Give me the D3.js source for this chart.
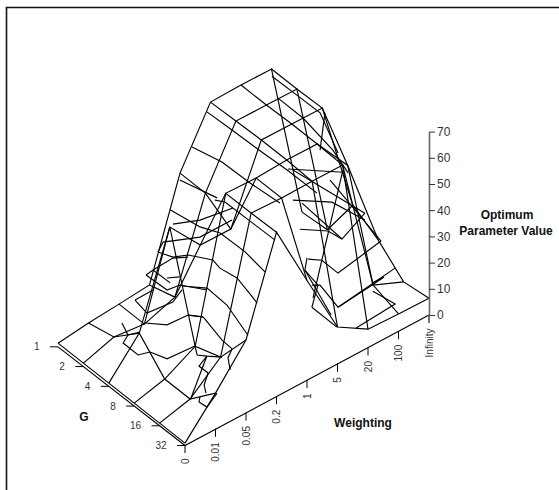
<!DOCTYPE html>
<html><head><meta charset="utf-8">
<script src="https://cdn.jsdelivr.net/npm/d3@7"></script>
<style>html,body{margin:0;padding:0;background:#fff}svg{display:block}text{font-family:"Liberation Sans",Arial,sans-serif}</style>
</head><body><svg id="c" width="559" height="490"></svg>
<script>
const gLabels=["1","2","4","8","16","32"];
const wLabels=["0","0.01","0.05","0.2","1","5","20","100","Infinity"];
const zTicks=[0,10,20,30,40,50,60,70];
// surface heights: one row per G, one value per weighting
const rowG1 =[.7,2.2,3.2,4.3,40.8,61.7,62,61.9,1.1];
const rowG2 =[.7,4.5,3.2,7.3,40.8,62.1,62,61.9,2];
const rowG4 =[.7,13.6,47.9,34.8,34.7,62.5,62.4,62.3,19];
const rowG8 =[.7,3.7,10,62.2,61.8,62.5,62.4,48,13.4];
const rowG16=[.7,3.7,13.5,62.3,61.8,62,62,10,5];
const rowG32=[.7,13.6,27.7,62.6,38,14,7,6.6,6.4];
const surface=[rowG1,rowG2,rowG4,rowG8,rowG16,rowG32];
// extra traced wire fragments: [G level index, points as weighting index / height]
const frag=[
[2,[[2.01,54.4],[2.99,41.8],[3.65,35.4],[4.47,23.1],[5.12,11.4]]],
[2,[[2.73,73.9],[3.71,62.1],[4.63,48.4],[5.61,34.7]]],
[1,[[4.05,71.5],[4.87,59.5],[5.72,46.9],[6.68,33],[7.66,18.1]]],
[2,[[2.33,63.8],[3.55,49.4]]],
[2,[[3.48,49],[3.81,46.2],[5.45,21.5]]],
[2,[[1.61,40.8],[2.1,35.8],[2.6,33.5],[3.42,26.5]]],
[2,[[1.61,40.8],[1.78,43.5],[2.99,37.9],[4.04,37.9]]],
[2,[[2.1,48.4],[2.99,44.4],[4.07,42.3]]],
[2,[[1.22,34.4],[1.91,24.4],[2.33,23.7],[3.22,16.3]]],
[3,[[1.57,35.7],[2.39,29.8],[3.04,19.3],[3.73,3.5]]],
[2,[[1.22,34.4],[1.45,34.9],[2.1,35.4],[2.6,32.7]]],
[2,[[1.91,29],[2.33,26.8]]],
[2,[[1.45,34.9],[2.01,26.5]]],
[3,[[2.58,39.3],[2.81,34.8],[3.37,27.6],[3.9,16.7],[4.03,13.9]]],
[3,[[2.26,19.6],[2.88,6.9],[3.21,1.5]]],
[3,[[1.76,23.4],[2.26,19.6]]],
[2,[[.86,27.1],[1.25,19.7],[2.1,18.6],[2.4,21.4]]],
[2,[[.86,27.1],[1.45,27.3]]],
[2,[[1.19,16.3],[1.91,11.1],[2.6,10.6],[3.09,6.8]]],
[2,[[.43,21],[.63,15.2],[.47,13.1],[.96,5.5],[1.35,4.2]]],
[3,[[.52,17],[1.08,10.9],[1.99,10.2]]],
[2,[[.63,15.2],[1.02,13.9]]],
[4,[[1.16,22.9],[1.23,19.1],[1.55,16.7],[2.05,13.2]]],
[4,[[1.03,3.9],[1.55,16.7]]],
[4,[[1.55,16.7],[1.29,14.5],[1.59,10],[1.46,6.2],[1.52,2.7]]],
[5,[[.49,15.3],[.46,13.6],[.72,10],[1.05,13.3]]],
[5,[[1.54,27.1],[1.41,24.5],[1.48,19.5]]],
[4,[[4.37,70.2],[6.73,39.1]]],
[4,[[4.21,71.6],[6.01,59.2]]],
[4,[[4.37,58.7],[5.65,50],[6.73,36.5]]],
[4,[[4.6,46.2],[5.52,39.8],[5.98,33.9],[6.73,39.1]]],
[4,[[4.67,55.7],[5.98,33.9]]],
[4,[[4.87,33.1],[5.32,29.9],[5.85,21.7],[7.26,25.2]]],
[4,[[5.59,58.8],[7.26,25.2]]],
[4,[[5,22.4],[5.26,20.8],[5.85,8.7],[7.72,12]]],
[4,[[5.85,8.7],[6.96,10.2],[7.36,10.8],[6.96,11]]],
[5,[[6.16,20.5],[6.89,11.1],[5.61,9.9]]],
[5,[[4.16,26.8],[4.98,14.1]]],
[5,[[4,46.6],[3.93,42.4],[4.36,34],[4.16,26.8]]],
[5,[[3.93,42.4],[4.79,19.9]]],
[4,[[5.03,17.3],[6.01,60]]],
[1,[[6.18,71.9],[7,59.6],[7.76,48.1],[8.35,29.1]]],
[1,[[6.38,62.3],[7.2,49.6],[8.18,31.3],[8.68,19.5]]],
[1,[[7.92,47.1],[7.76,33.9]]]
];
const svg=d3.select("#c");
// oblique projection built from three linear scales
const gX=d3.scaleLinear().domain([0,5]).range([-127,0]);
const gY=d3.scaleLinear().domain([0,5]).range([-100,0]);
const wX=d3.scaleLinear().domain([0,8]).range([185,429]);
const wY=d3.scaleLinear().domain([0,8]).range([445,315]);
const zY=d3.scaleLinear().domain([0,70]).range([0,183.4]);
const px=(g,w)=>wX(w)+gX(g), py=(g,w,z)=>wY(w)+gY(g)-zY(z);
const line=d3.line().x(d=>px(d.g,d.w)).y(d=>py(d.g,d.w,d.z));
const wire=svg.append("g").attr("fill","none").attr("stroke","#000").attr("stroke-width",1.15).attr("stroke-linejoin","miter");
const strands=[];
surface.forEach((r,g)=>strands.push(r.map((z,w)=>({g,w,z}))));
wLabels.forEach((_,w)=>strands.push(surface.map((r,g)=>({g,w,z:r[w]}))));
frag.forEach(([g,pts])=>strands.push(pts.map(([w,z])=>({g,w,z}))));
wire.selectAll("path").data(strands).join("path").attr("d",line);
// base frame
const base=svg.append("g").attr("stroke","#000").attr("fill","none").attr("stroke-width",1.1);
base.append("path").attr("d",d3.line()([[px(0,0),py(0,0,-.7)],[px(5,0),py(5,0,-.2)],[px(5,8),py(5,8,0)]]));
// G axis
const ax=svg.append("g").attr("font-size",10).attr("fill","#333");
gLabels.forEach((t,g)=>{
  const x=px(g,0),y=py(g,0,-.7+.1*g);
  ax.append("line").attr("x1",x-8).attr("x2",x).attr("y1",y).attr("y2",y).attr("stroke","#000");
  ax.append("text").attr("x",x-18.5).attr("y",y+3.5).attr("text-anchor","end").text(t);
});
// weighting axis
wLabels.forEach((t,w)=>{
  const x=px(5,w),y=py(5,w,0);
  ax.append("line").attr("x1",x).attr("x2",x).attr("y1",y).attr("y2",y+8).attr("stroke","#000");
  ax.append("text").attr("transform",`translate(${x+3.5},${y+13.5}) rotate(-90)`).attr("text-anchor","end").text(t);
});
// height axis
const zs=d3.scaleLinear().domain([0,70]).range([py(5,8,0),py(5,8,70)]);
const zg=svg.append("g").attr("transform",`translate(${px(5,8)},0)`);
zg.call(d3.axisRight(zs).tickValues(zTicks).tickSize(6).tickSizeOuter(0).tickPadding(2));
zg.select(".domain").attr("stroke","#666").attr("stroke-width",1.6);
zg.append("line").attr("y1",zs(0)).attr("y2",zs(0)+5).attr("stroke","#666").attr("stroke-width",1.6);
zg.selectAll(".tick line").attr("stroke","#333");
zg.selectAll("text").attr("font-size",12).attr("fill","#333").attr("font-family",'"Liberation Sans",Arial,sans-serif');
const lab=svg.append("g").attr("font-size",12).attr("font-weight","bold").attr("fill","#111").attr("text-anchor","middle");
lab.append("text").attr("x",84).attr("y",421).text("G");
lab.append("text").attr("x",363).attr("y",427).text("Weighting");
lab.append("text").attr("x",507).attr("y",219).text("Optimum");
lab.append("text").attr("x",506).attr("y",235).text("Parameter Value");
// outer frame
svg.append("path").attr("fill","none").attr("stroke","#111").attr("stroke-width",1.6)
  .attr("d",d3.line()([[6.5,490],[6.5,7.5],[559,7.5]]));
</script></body></html>
